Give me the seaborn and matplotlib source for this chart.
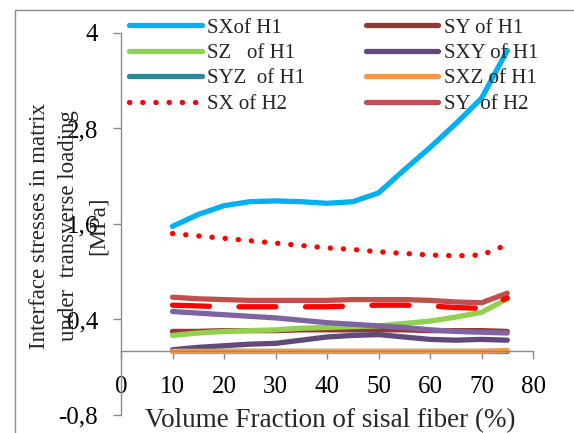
import matplotlib
matplotlib.use("Agg")
import matplotlib.pyplot as plt
from matplotlib.patches import Rectangle
import seaborn as sns
import pandas as pd

# volume fraction of sisal fibre (%)
vf = [10, 15, 20, 25, 30, 35, 40, 45, 50, 55, 60, 65, 70, 75]

# stresses [MPa]
sx_h1 = [1.57, 1.72, 1.83, 1.88, 1.89, 1.88, 1.86, 1.88, 1.99, 2.28, 2.56, 2.86, 3.18, 3.78]
sy_h1 = [0.25, 0.25, 0.26, 0.26, 0.26, 0.27, 0.27, 0.27, 0.27, 0.27, 0.26, 0.26, 0.26, 0.25]
sz_h1 = [0.20, 0.23, 0.25, 0.26, 0.27, 0.29, 0.30, 0.31, 0.32, 0.35, 0.38, 0.43, 0.49, 0.66]
sxy_h1 = [0.02, 0.05, 0.07, 0.09, 0.10, 0.14, 0.18, 0.20, 0.21, 0.18, 0.15, 0.14, 0.15, 0.14]
syz_h1 = [0.00, 0.00, 0.00, 0.00, 0.00, 0.00, 0.00, 0.00, 0.00, 0.00, 0.00, 0.00, 0.00, 0.00]
sxz_h1 = [0.00, 0.00, 0.00, 0.00, 0.00, 0.00, 0.00, 0.00, 0.00, 0.00, 0.00, 0.00, 0.00, 0.01]
sx_h2 = [1.48, 1.45, 1.42, 1.39, 1.36, 1.33, 1.30, 1.28, 1.25, 1.23, 1.21, 1.20, 1.21, 1.34]
sy_h2 = [0.68, 0.66, 0.65, 0.64, 0.64, 0.64, 0.64, 0.65, 0.65, 0.65, 0.64, 0.62, 0.61, 0.73]
sz_h2 = [0.58, 0.57, 0.56, 0.56, 0.56, 0.56, 0.56, 0.57, 0.58, 0.58, 0.57, 0.55, 0.54, 0.67]
sxy_h2 = [0.50, 0.48, 0.46, 0.44, 0.42, 0.39, 0.36, 0.34, 0.32, 0.30, 0.27, 0.25, 0.24, 0.23]

yticks = [-0.8, 0.4, 1.6, 2.8, 4.0]
ytick_labels = ["-0,8", "0,4", "1,6", "2,8", "4"]
xticks = [0, 10, 20, 30, 40, 50, 60, 70, 80]

sns.set_style("white")
plt.rcParams["font.family"] = ["Liberation Serif", "DejaVu Serif"]

fig = plt.figure(figsize=(5.74, 4.33), dpi=100)
ax = fig.add_axes([0.2108, 0.0416, 0.7178, 0.8822])

# (values, label, colour, linestyle)
series = [
    (sx_h1, "SXof H1", "#00B0F0", "-"),
    (sy_h1, "SY of H1", "#953735", "-"),
    (sz_h1, "SZ   of H1", "#92D050", "-"),
    (sxy_h1, "SXY of H1", "#604A7B", "-"),
    (syz_h1, "SYZ  of H1", "#31859C", "-"),
    (sxz_h1, "SXZ of H1", "#F79646", "-"),
    (sx_h2, "SX of H2", "#FF0000", (0, (0.05, 2.45))),
    (sy_h2, "SY  of H2", "#C0504D", "-"),
    (sz_h2, "_nolegend_", "#FF0000", (0, (7.0, 5.6))),
    (sxy_h2, "_nolegend_", "#8064A2", "-"),
]

for vals, lab, col, ls in series:
    sns.lineplot(x=vf, y=vals, ax=ax, color=col, lw=3.8, label=lab, linestyle=ls)
    ln = ax.lines[-1]
    ln.set_solid_capstyle("round")
    ln.set_dash_capstyle("round")

ax.set_xlim(0, 80)
ax.set_ylim(-0.8, 4.0)
ax.set_xticks(xticks)
ax.set_yticks(yticks)
ax.set_yticklabels(ytick_labels)
ax.set_xlabel("")
ax.set_ylabel("")

for side in ["top", "right"]:
    ax.spines[side].set_visible(False)
ax.spines["bottom"].set_position(("data", 0))
for side in ["left", "bottom"]:
    ax.spines[side].set_color("#8C8C8C")
    ax.spines[side].set_linewidth(1.0)

ax.tick_params(axis="both", direction="out", length=5.5, width=1.0, color="#8C8C8C",
               labelsize=18, labelcolor="black")
ax.tick_params(axis="x", pad=12)
ax.tick_params(axis="y", pad=11)
ax.tick_params(left=True, bottom=True)

fig.text(0.5749, 0.028, "Volume Fraction of sisal fiber (%)", fontsize=19.5,
         ha="center", va="center")
fig.text(0.120, 0.478, "Interface stresses in matrix\nunder  transverse loading\n[MPa]",
         fontsize=16.5, rotation=90, ha="center", va="center",
         multialignment="center", linespacing=1.52)

# legend is filled row by row in the reference
handles, labels = ax.get_legend_handles_labels()
order = [0, 2, 4, 6, 1, 3, 5, 7]
leg = ax.legend([handles[i] for i in order], [labels[i] for i in order],
                loc="upper left", bbox_to_anchor=(129 / 574, 1 - 18 / 433),
                bbox_transform=fig.transFigure, ncol=2, frameon=False,
                fontsize=15, borderpad=0, borderaxespad=0, handlelength=3.5,
                handletextpad=0.25, columnspacing=2.9, labelspacing=0.28)

# chart-area border (only the left and top edges are inside the crop)
fig.patches.append(Rectangle((15 / 574, -0.1), 1.2, 1.1 - 10 / 433,
                             transform=fig.transFigure, fill=False,
                             edgecolor="#8C8C8C", lw=1.0))

fig.savefig("out.png", dpi=100)
